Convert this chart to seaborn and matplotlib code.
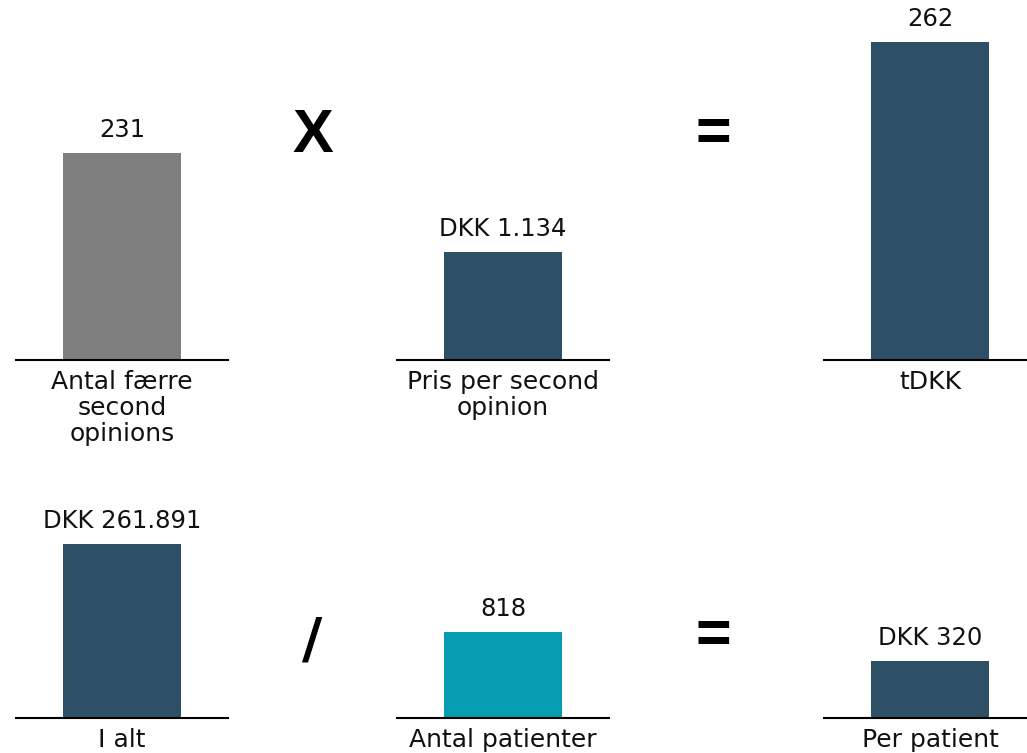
import matplotlib
matplotlib.use("Agg")
import matplotlib.pyplot as plt
import seaborn as sns
import pandas as pd

# Figures in the calculation: (count x price = total), (total / patients = per patient)
categories = ["Antal færre\nsecond\nopinions", "Pris per second\nopinion", "tDKK",
              "I alt", "Antal patienter", "Per patient"]
values = [231, 1134, 262, 261891, 818, 320]
value_labels = ["231", "DKK 1.134", "262", "DKK 261.891", "818", "DKK 320"]
bar_colors = ["#7f7f7f", "#2d5066", "#2d5066", "#2d5066", "#069db2", "#2d5066"]
# each panel has its own value axis
axis_max = [390.6, 3675, 288.4, 373270, 2359, 1392]
operators = ["X", "=", "/", "="]

sns.set_theme(style="white")
plt.rcParams["font.family"] = ["DejaVu Sans"]

W, H = 1027, 753
fig = plt.figure(figsize=(W / 100, H / 100), dpi=100)

# panel frames in pixels: left, top, width, height
col_left = [16, 397, 824]
row_top = [10, 470]
row_bottom = [360, 718]
panel_w = 212

for i, (cat, val, lab, col, ymax) in enumerate(
        zip(categories, values, value_labels, bar_colors, axis_max)):
    r, c = divmod(i, 3)
    left = col_left[c]
    top = row_top[r]
    bottom = row_bottom[r]
    ax = fig.add_axes([left / W, 1 - bottom / H, panel_w / W, (bottom - top) / H])
    df = pd.DataFrame({"cat": [cat], "val": [val]})
    sns.barplot(data=df, x="cat", y="val", color=col, saturation=1,
                width=0.557, linewidth=0, ax=ax)
    ax.set_xlim(-0.5, 0.5)
    ax.set_ylim(0, ymax)
    ax.set_xlabel("")
    ax.set_ylabel("")
    ax.set_yticks([])
    ax.tick_params(axis="x", length=0, pad=7, labelsize=18)
    for lbl in ax.get_xticklabels():
        lbl.set_linespacing(1.1)
        lbl.set_color("#111111")
    for side in ["top", "left", "right"]:
        ax.spines[side].set_visible(False)
    ax.spines["bottom"].set_color("black")
    ax.spines["bottom"].set_linewidth(1.5)
    ax.bar_label(ax.containers[0], labels=[lab], padding=8, fontsize=17.5,
                 color="#111111")
    ax.patch.set_alpha(0)

# arithmetic operators between the panels
op_pos = [(313, 136), (713, 135), (312, 641), (713, 638)]
op_size = [44, 44, 40, 44]
op_family = ["Liberation Sans", "Liberation Sans", "DejaVu Sans", "Liberation Sans"]
for op, (x, y), fs, fam in zip(operators, op_pos, op_size, op_family):
    fig.text(x / W, 1 - y / H, op, ha="center", va="center", fontsize=fs,
             fontweight="bold", family=fam, color="black")

fig.savefig("out.png", dpi=100)
